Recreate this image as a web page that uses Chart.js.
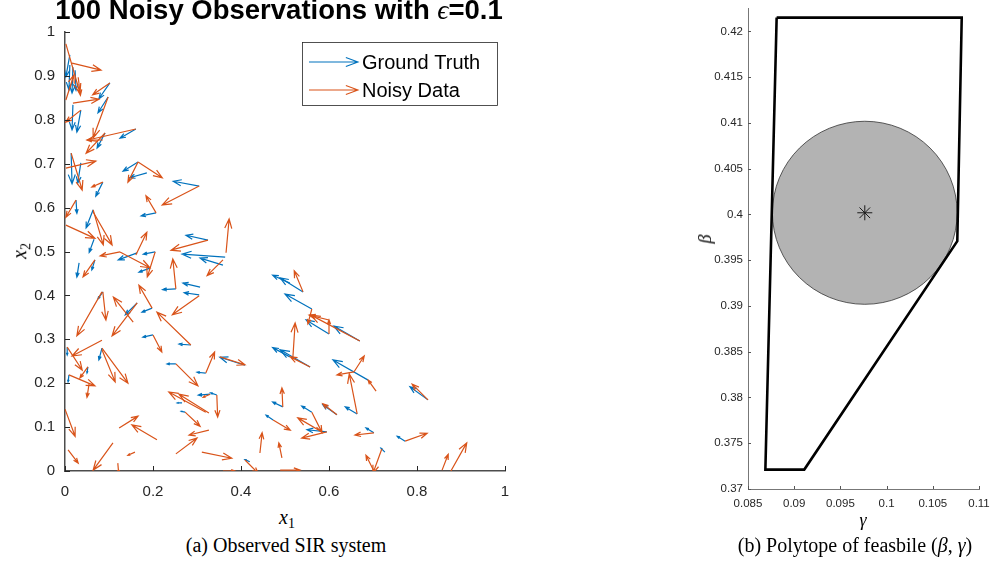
<!DOCTYPE html>
<html lang="en">
<head>
<meta charset="UTF-8">
<title>SIR quiver and feasible polytope</title>
<script src="https://cdn.jsdelivr.net/npm/chart.js"></script>
<style>
  body { margin:0; background:#fff; width:1003px; height:577px; position:relative; overflow:hidden;
         font-family:'Liberation Sans', Arial, Helvetica, sans-serif; }
  canvas { position:absolute; }
  #quiverChart { left:0; top:0; }
  #polyChart { left:690px; top:0; }
  .lbl { position:absolute; white-space:nowrap; color:#000; line-height:1; }
  .serif { font-family:'Liberation Serif', 'Times New Roman', serif; }
  .center { transform:translateX(-50%); }
  #title { left:279px; top:-4px; font-weight:bold; font-size:27.5px; }
  #title .eps { font-family:'Liberation Serif', serif; font-style:italic; font-weight:normal; }
  #x1 { left:287px; top:507px; font-size:20px; }
  #x2 { left:21px; top:251px; font-size:20px; transform:translate(-50%,-50%) rotate(-90deg); }
  #beta { left:705px; top:239px; font-size:18px; transform:translate(-50%,-50%) rotate(-90deg); }
  #gamma { left:863px; top:511px; font-size:18px; }
  sub { font-size:0.7em; vertical-align:-0.25em; }
  .cap { font-size:20px; top:535px; }
  #capA { left:286px; }
  #capB { left:855px; }
</style>
</head>
<body>

<canvas id="quiverChart" width="530" height="500"></canvas>
<canvas id="polyChart" width="313" height="530"></canvas>

<div class="lbl center" id="title">100 Noisy Observations with <span class="eps">ϵ</span>=0.1</div>
<div class="lbl center serif" id="x1"><i>x</i><sub>1</sub></div>
<div class="lbl serif" id="x2"><i>x</i><sub>2</sub></div>
<div class="lbl serif" id="beta"><i>β</i></div>
<div class="lbl center serif" id="gamma"><i>γ</i></div>
<div class="lbl center serif cap" id="capA">(a) Observed SIR system</div>
<div class="lbl center serif cap" id="capB">(b) Polytope of feasbile (<i>β</i>, <i>γ</i>)</div>

<script>
// ---- (a) quiver data: base point (x, y) and vector (u, v) ----
const gtX = [.011,.011,.018,.023,.102,.018,.036,.098,.161,.091,
             .014,.036,.086,.166,.186,.305,.207,.025,.064,.066,
             .325,.164,.205,.193,.252,.364,.359,.307,.305,.032,
             .068,.086,.164,.198,.286,.200,.084,.005,.052,.009,
             .252,.320,.409,.266,.330,.345,.273,.495,.473,.511,
             .511,.541,.561,.600,.670,.557,.689,.825,.561,.618,
             .664,.595,.702,.773,.727,.420];
const gtY = [.948,.925,.920,.913,.884,.834,.822,.852,.779,.770,
             .724,.702,.658,.704,.679,.649,.588,.617,.595,.528,
             .526,.497,.499,.462,.415,.487,.469,.419,.401,.474,
             .481,.408,.383,.371,.287,.310,.280,.282,.237,.219,
             .244,.223,.241,.155,.175,.173,.134,.146,.116,.428,
             .260,.408,.369,.312,.296,.237,.207,.162,.134,.128,
             .130,.089,.087,.068,.043,.021];
const gtU = [-.009,-.002,-.002,.002,-.025,-.002,-.009,-.023,-.036,-.018,
             .002,-.007,-.016,-.034,-.039,-.059,-.034,.002,-.016,-.011,
             -.050,-.043,-.027,-.025,-.030,-.098,-.052,-.039,-.034,-.005,
             -.007,-.011,-.027,-.023,-.027,-.023,-.007,0,-.002,-.002,
             -.020,-.020,-.057,-.011,-.027,-.014,-.009,-.023,-.016,-.039,
             -.039,-.052,-.061,-.052,-.059,-.068,-.080,-.041,-.023,-.032,
             -.027,-.045,-.018,-.018,-.009,-.011];
const gtV = [-.050,-.057,-.059,-.046,-.036,-.057,-.050,-.036,-.021,-.034,
             -.070,-.046,-.032,-.021,-.011,.011,-.007,-.030,-.041,-.030,
             .011,-.016,-.005,-.009,-.002,.007,.016,.009,.005,-.032,
             -.023,-.016,-.027,-.009,.002,-.005,-.027,-.018,-.014,-.016,
             0,.002,.018,0,-.002,.005,.002,.011,.011,.018,
             .021,.032,.034,.032,.034,.039,.046,.030,.014,.023,
             .016,.005,.011,.011,.009,.005];

const noisyX = [.002,.016,.002,.030,.102,.018,.036,.098,.161,.091,
                .086,.014,.002,.086,.166,.166,.305,.207,.025,.064,
                .064,.002,.161,.325,.366,.125,.125,.205,.252,.359,
                .305,.068,.084,.086,.164,.155,.198,.286,.200,.084,
                .084,.084,.005,.052,.009,.055,.252,.320,.352,.327,
                .320,.330,.345,.273,.327,.252,.123,.209,.311,.109,
                .007,.159,.120,0,.409,.443,.493,.495,.473,.359,
                .541,.561,.670,.600,.600,.557,.518,.707,.657,.657,
                .664,.825,.561,.618,.584,.595,.702,.773,.720,.702,
                .857,.877,.489];
const noisyY = [.973,.929,.845,.897,.884,.838,.822,.852,.779,.770,
                .754,.724,.690,.658,.704,.704,.649,.588,.617,.595,
                .590,.560,.492,.526,.497,.499,.499,.499,.415,.481,
                .399,.481,.408,.408,.383,.339,.371,.287,.310,.298,
                .280,.276,.282,.237,.219,.200,.244,.223,.260,.132,
                .134,.175,.173,.134,.093,.039,.098,.071,.043,.064,
                .048,.043,.018,.141,.025,.041,.030,.146,.116,0,
                .408,.369,.296,.312,.344,.237,.260,.182,.226,.226,
                .130,.162,.134,.128,.089,.089,.087,.068,.050,0,
                .002,0,.002];
const noisyU = [.032,.066,.018,.005,-.039,.059,-.034,-.034,-.109,-.043,
                -.036,.025,.068,-.025,-.023,.055,-.084,-.023,-.023,.023,
                .043,.066,.025,-.084,.007,-.045,.068,-.018,-.007,-.036,
                -.061,-.027,-.057,.007,-.057,-.045,-.030,-.077,.020,-.068,
                .059,.030,.034,-.018,.059,-.005,.050,.020,.057,-.068,
                -.084,-.016,.002,.034,-.045,.048,.043,-.057,.068,-.045,
                .023,-.016,.002,.023,.030,.005,-.007,-.002,.039,.027,
                -.020,-.009,-.111,0,-.045,-.045,.005,-.018,.023,-.039,
                -.018,-.036,.023,-.032,-.055,-.057,-.043,.050,-.020,-.018,
                .014,.036,.045];
const noisyV = [-.112,-.016,.057,-.041,-.027,.009,-.027,-.093,-.025,-.046,
                0,-.084,.016,-.011,-.046,-.036,-.043,.039,-.039,-.080,
                -.075,-.030,.052,-.023,.077,-.009,-.036,-.057,.068,-.036,
                -.043,-.039,-.100,-.064,-.075,.057,.052,.075,-.039,-.036,
                -.080,-.073,-.052,-.025,-.025,-.032,-.050,.048,-.018,.043,
                .046,-.007,-.050,-.032,-.011,.036,.027,.034,-.014,-.062,
                -.030,-.007,-.023,-.062,-.030,.046,.034,.043,-.023,0,
                .048,-.034,.059,.032,.011,.023,.077,.025,.036,-.007,
                .091,.036,-.046,.025,.032,-.014,-.005,.018,-.055,.036,
                .036,.064,0];

const xTicksA = [0, 0.2, 0.4, 0.6, 0.8, 1];
const yTicksA = [0, 0.1, 0.2, 0.3, 0.4, 0.5, 0.6, 0.7, 0.8, 0.9, 1];

// ---- (b) polytope, inscribed ball and its centre ----
const polyGamma = [0.0881, 0.10813, 0.10765, 0.09109, 0.08688, 0.0881];
const polyBeta  = [0.4215, 0.4215, 0.39708, 0.37212, 0.37212, 0.4215];
const ballGamma = 0.09764;
const ballBeta = 0.40018;
const ballRadius = 0.0100;
const xTicksB = [0.085, 0.09, 0.095, 0.1, 0.105, 0.11];
const yTicksB = [0.37, 0.375, 0.38, 0.385, 0.39, 0.395, 0.4, 0.405, 0.41, 0.415, 0.42];

const BLUE = '#0072BD', ORANGE = '#D95319', AXIS = '#262626';
const FONT = "'Liberation Sans', Arial, Helvetica, sans-serif";
const fmt = v => String(+Number(v).toFixed(4));

function arrow(ctx, x0, y0, x1, y1, maxHead) {
  const dx = x1 - x0, dy = y1 - y0, len = Math.hypot(dx, dy);
  if (len < 0.5) return;
  const h = Math.min(len * 0.33, maxHead), a = Math.atan2(dy, dx), w = 0.36;
  ctx.beginPath();
  ctx.moveTo(x0, y0); ctx.lineTo(x1, y1);
  ctx.moveTo(x1 - h * Math.cos(a - w), y1 - h * Math.sin(a - w));
  ctx.lineTo(x1, y1);
  ctx.lineTo(x1 - h * Math.cos(a + w), y1 - h * Math.sin(a + w));
  ctx.stroke();
}

// draws each dataset's vectors from its base points
const quiverPlugin = {
  id: 'quiver',
  afterDatasetsDraw(chart) {
    const {ctx, chartArea: ca, scales: {x, y}} = chart;
    ctx.save();
    ctx.beginPath(); ctx.rect(ca.left, ca.top, ca.width, ca.height); ctx.clip();
    ctx.lineWidth = 1.2;
    chart.data.datasets.forEach(ds => {
      ctx.strokeStyle = ds.arrowColor;
      ds.data.forEach((p, i) => {
        arrow(ctx, x.getPixelForValue(p.x), y.getPixelForValue(p.y),
              x.getPixelForValue(p.x + ds.u[i]), y.getPixelForValue(p.y + ds.v[i]), 10);
      });
    });
    ctx.restore();
  }
};

// MATLAB-style inward tick marks
const innerTicks = {
  id: 'innerTicks',
  afterDraw(chart, args, opts) {
    const {ctx, chartArea: ca, scales: {x, y}} = chart;
    ctx.save();
    ctx.strokeStyle = opts.color; ctx.lineWidth = 1;
    ctx.beginPath();
    x.ticks.forEach(t => { const px = Math.round(x.getPixelForValue(t.value)) + 0.5;
      ctx.moveTo(px, ca.bottom); ctx.lineTo(px, ca.bottom - opts.len); });
    y.ticks.forEach(t => { const py = Math.round(y.getPixelForValue(t.value)) + 0.5;
      ctx.moveTo(ca.left, py); ctx.lineTo(ca.left + opts.len, py); });
    ctx.stroke();
    ctx.restore();
  }
};

const quiverLegend = {
  id: 'quiverLegend',
  afterDraw(chart) {
    const ctx = chart.ctx;
    ctx.save();
    ctx.fillStyle = '#fff'; ctx.strokeStyle = AXIS; ctx.lineWidth = 0.8;
    ctx.fillRect(302.5, 42.5, 195, 63); ctx.strokeRect(302.5, 42.5, 195, 63);
    ctx.lineWidth = 1.1;
    ctx.font = '20px ' + FONT; ctx.textBaseline = 'middle'; ctx.fillStyle = '#000';
    chart.data.datasets.forEach((ds, i) => {
      const yy = 62 + i * 28;
      ctx.strokeStyle = ds.arrowColor;
      arrow(ctx, 309, yy, 358, yy, 13);
      ctx.fillText(ds.label, 362, yy + 1);
    });
    ctx.restore();
  }
};

const fixBox = (w, h) => s => {
  if (w !== null) s.width = w;
  if (h !== null) s.height = h;
  s.paddingTop = s.paddingBottom = s.paddingLeft = s.paddingRight = 0;
};

new Chart(document.getElementById('quiverChart'), {
  type: 'scatter',
  data: {
    datasets: [
      { label: 'Ground Truth', arrowColor: BLUE, u: gtU, v: gtV,
        data: gtX.map((x, i) => ({x, y: gtY[i]})), pointRadius: 0 },
      { label: 'Noisy Data', arrowColor: ORANGE, u: noisyU, v: noisyV,
        data: noisyX.map((x, i) => ({x, y: noisyY[i]})), pointRadius: 0 }
    ]
  },
  options: {
    responsive: false, animation: false,
    layout: { padding: { left: 0, top: 32, right: 25, bottom: 0 } },
    plugins: { legend: { display: false }, tooltip: { enabled: false },
               innerTicks: { len: 5, color: AXIS } },
    scales: {
      x: { type: 'linear', min: 0, max: 1,
           afterBuildTicks: s => { s.ticks = xTicksA.map(v => ({value: v})); },
           afterFit: fixBox(null, 29),
           grid: { display: false, drawTicks: false },
           border: { display: true, color: '#4d4d4d', width: 1.5 },
           ticks: { color: AXIS, padding: 12, maxRotation: 0, font: { family: FONT, size: 15 }, callback: fmt } },
      y: { type: 'linear', min: 0, max: 1,
           afterBuildTicks: s => { s.ticks = yTicksA.map(v => ({value: v})); },
           afterFit: fixBox(65, null),
           grid: { display: false, drawTicks: false },
           border: { display: true, color: '#4d4d4d', width: 1.5 },
           ticks: { color: AXIS, padding: 10, font: { family: FONT, size: 15 }, callback: fmt } }
    }
  },
  plugins: [quiverPlugin, innerTicks, quiverLegend]
});

// shaded ball under the polytope outline
const ballPlugin = {
  id: 'ball',
  beforeDatasetsDraw(chart) {
    const {ctx, scales: {x, y}} = chart;
    const cx = x.getPixelForValue(ballGamma), cy = y.getPixelForValue(ballBeta);
    const rx = Math.abs(x.getPixelForValue(ballGamma + ballRadius) - cx);
    const ry = Math.abs(y.getPixelForValue(ballBeta + ballRadius) - cy);
    ctx.save();
    ctx.beginPath(); ctx.ellipse(cx, cy, rx, ry, 0, 0, Math.PI * 2);
    ctx.fillStyle = '#b3b3b3'; ctx.fill();
    ctx.strokeStyle = '#333'; ctx.lineWidth = 0.8; ctx.stroke();
    ctx.restore();
  }
};

new Chart(document.getElementById('polyChart'), {
  type: 'scatter',
  data: {
    datasets: [
      { label: 'Polytope', data: polyGamma.map((g, i) => ({x: g, y: polyBeta[i]})),
        showLine: true, borderColor: '#000', borderWidth: 2.6, borderJoinStyle: 'miter',
        pointRadius: 0, fill: false, tension: 0 },
      { label: 'Centre', data: [{x: ballGamma, y: ballBeta}],
        pointStyle: 'star', pointRadius: 7.5, borderColor: '#1a1a1a', borderWidth: 1,
        backgroundColor: '#1a1a1a' }
    ]
  },
  options: {
    responsive: false, animation: false,
    layout: { padding: { left: 0, top: 2, right: 24, bottom: 0 } },
    plugins: { legend: { display: false }, tooltip: { enabled: false },
               innerTicks: { len: 3, color: '#555' } },
    scales: {
      x: { type: 'linear', min: 0.085, max: 0.11,
           afterBuildTicks: s => { s.ticks = xTicksB.map(v => ({value: v})); },
           afterFit: fixBox(null, 41),
           grid: { display: false, drawTicks: false },
           border: { display: true, color: '#777', width: 1 },
           ticks: { color: AXIS, padding: 8, maxRotation: 0, font: { family: FONT, size: 11.5 }, callback: fmt } },
      y: { type: 'linear', min: 0.37, max: 0.4225,
           afterBuildTicks: s => { s.ticks = yTicksB.map(v => ({value: v})); },
           afterFit: fixBox(58, null),
           grid: { display: false, drawTicks: false },
           border: { display: true, color: '#777', width: 1 },
           ticks: { color: AXIS, padding: 5, font: { family: FONT, size: 11.5 }, callback: fmt } }
    }
  },
  plugins: [ballPlugin, innerTicks]
});
</script>
</body>
</html>
